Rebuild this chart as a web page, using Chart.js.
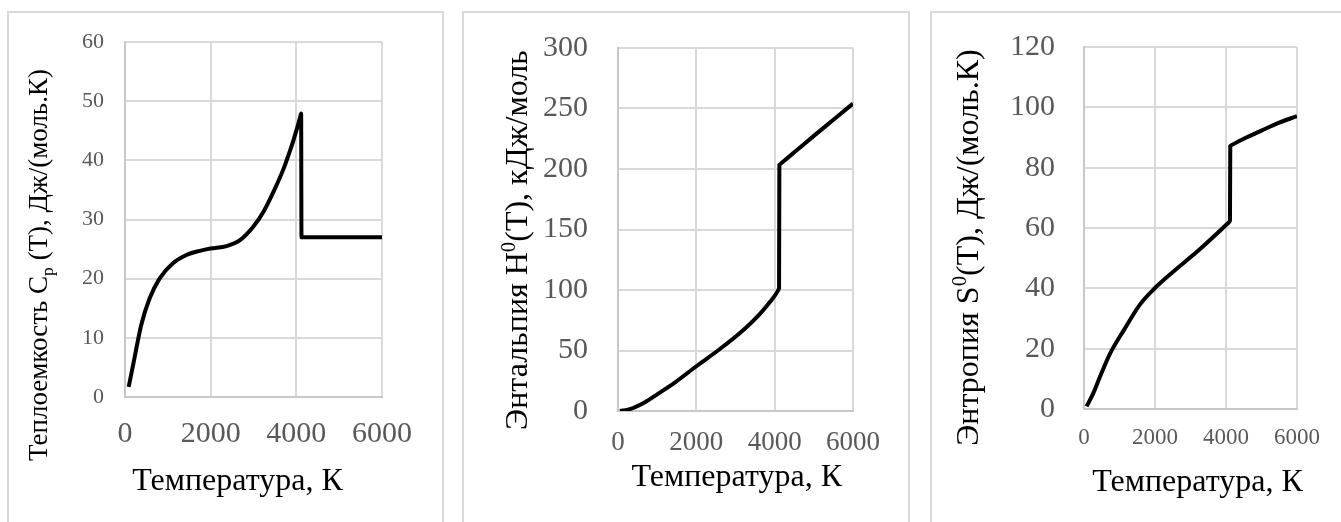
<!DOCTYPE html>
<html><head><meta charset="utf-8">
<script src="https://cdn.jsdelivr.net/npm/chart.js@4/dist/chart.umd.min.js"></script>
<style>
html,body{margin:0;padding:0;background:#fff;width:1341px;height:522px;overflow:hidden;}
.panel{position:absolute;top:11px;height:600px;border:2px solid #d9d9d9;box-sizing:border-box;}
canvas{position:absolute;top:0;}
</style></head><body>
<div class="panel" style="left:7px;width:437px"></div>
<div class="panel" style="left:462px;width:448px"></div>
<div class="panel" style="left:930px;width:500px"></div>
<canvas id="c1" width="447" height="522" style="left:0px"></canvas>
<canvas id="c2" width="465" height="522" style="left:447px"></canvas>
<canvas id="c3" width="429" height="522" style="left:912px"></canvas>
<script>
// ---- data ----
const xTickValues = [0, 2000, 4000, 6000];
const xTitle = 'Температура, К';

const cpT      = [86, 219, 376, 571, 806, 1119, 1432, 1746, 1996, 2372, 2685, 2998, 3233, 3468, 3703, 3898, 4016, 4090, 4112, 4120, 5000, 6000];
const cpValues = [1.7, 6.5, 12.1, 16.6, 20.0, 22.6, 24.0, 24.7, 25.1, 25.5, 26.5, 28.8, 31.3, 34.7, 38.6, 42.6, 45.4, 47.3, 47.9, 27.0, 27.0, 27.0];
const cpTicks  = [0, 10, 20, 30, 40, 50, 60];

const hT      = [50, 300, 700, 1000, 1450, 2000, 2550, 3060, 3570, 3900, 4050, 4095, 4106, 4112, 4120, 4130, 4145, 4500, 5000, 5500, 6000];
const hValues = [0, 1.5, 7.5, 13.8, 23.5, 37, 50, 63, 78.5, 91, 97.5, 100.2, 100.9, 101.5, 203.5, 203.8, 204.2, 213.8, 227.4, 240.7, 254];
const hTicks  = [0, 50, 100, 150, 200, 250, 300];

const sT      = [75, 260, 450, 730, 1110, 1580, 2000, 2520, 3180, 3740, 4000, 4095, 4106, 4112, 4120, 4130, 4145, 4500, 5000, 5500, 6000];
const sValues = [0.9, 5.2, 10.7, 18.3, 25.9, 34.7, 40.1, 45.6, 52.1, 58.1, 61, 62.1, 62.3, 62.5, 87.2, 87.3, 87.4, 89.6, 92.3, 94.9, 97.1];
const sTicks  = [0, 20, 40, 60, 80, 100, 120];

const cpTitle = [{t:'Теплоемкость C'}, {t:'p', s:'sub'}, {t:' (T), Дж/(моль.К)'}];
const hTitle  = [{t:'Энтальпия H'}, {t:'0', s:'sup'}, {t:'(T), кДж/моль'}];
const sTitle  = [{t:'Энтропия S'}, {t:'0', s:'sup'}, {t:'(T), Дж/(моль.К)'}];

// ---- rendering ----
const FAM = "'Liberation Serif', 'Times New Roman', serif";

function drawRich(ctx, parts, size, x, y, rotate) {
  ctx.save();
  ctx.translate(x, y);
  if (rotate) ctx.rotate(-Math.PI / 2);
  ctx.fillStyle = '#000';
  ctx.textBaseline = 'alphabetic';
  ctx.textAlign = 'left';
  let total = 0;
  const ws = parts.map(p => {
    ctx.font = (p.s ? size * 0.65 : size) + 'px ' + FAM;
    const w = ctx.measureText(p.t).width; total += w; return w;
  });
  let cx = -total / 2;
  parts.forEach((p, i) => {
    ctx.font = (p.s ? size * 0.65 : size) + 'px ' + FAM;
    const dy = p.s === 'sub' ? size * 0.22 : (p.s === 'sup' ? -size * 0.38 : 0);
    ctx.fillText(p.t, cx, dy);
    cx += ws[i];
  });
  ctx.restore();
}

function makeChart(id, T, V, yTicks, yTitleParts, st) {
  const pts = T.map((t, i) => ({x: t, y: V[i]}));
  const titlePlugin = {
    id: 'titles',
    afterDraw(chart) {
      const ctx = chart.ctx;
      drawRich(ctx, [{t: xTitle}], st.xtSize, st.xtX, st.xtY, false);
      drawRich(ctx, yTitleParts, st.ytSize, st.ytX, st.ytY, true);
    }
  };
  return new Chart(document.getElementById(id), {
    type: 'scatter',
    data: { datasets: [{
      data: pts, showLine: true, borderColor: '#000', borderWidth: 4,
      pointRadius: 0, cubicInterpolationMode: 'monotone', fill: false,
      borderCapStyle: 'butt', borderJoinStyle: 'miter'
    }]},
    options: {
      responsive: false, animation: false, devicePixelRatio: 1,
      layout: { padding: {left: 5, right: st.right, top: 42, bottom: st.bottom} },
      plugins: { legend: {display: false}, tooltip: {enabled: false}, title: {display: false} },
      scales: {
        x: {
          type: 'linear', min: 0, max: 6000,
          afterBuildTicks: s => { s.ticks = xTickValues.map(v => ({value: v})); },
          afterFit: s => { s.height = 60; },
          grid: { color: '#d9d9d9', lineWidth: 2, drawTicks: false },
          border: { color: '#c8c8c8', width: 2 },
          ticks: { color: '#595959', font: {family: FAM, size: st.xSize}, padding: st.xPad,
                   maxRotation: 0, autoSkip: false, callback: v => String(v) }
        },
        y: {
          type: 'linear', min: yTicks[0], max: yTicks[yTicks.length - 1],
          afterBuildTicks: s => { s.ticks = yTicks.map(v => ({value: v})); },
          afterFit: s => { s.width = st.left - 5; },
          grid: { color: '#d9d9d9', lineWidth: 2, drawTicks: false },
          border: { color: '#c8c8c8', width: 2 },
          ticks: { color: '#595959', font: {family: FAM, size: st.ySize}, padding: st.yPad,
                   autoSkip: false, callback: v => String(v) }
        }
      }
    },
    plugins: [titlePlugin]
  });
}

makeChart('c1', cpT, cpValues, cpTicks, cpTitle, {
  left: 125, right: 65, bottom: 65,
  xSize: 30, xPad: 19, ySize: 22, yPad: 21,
  xtSize: 32, xtX: 237.5, xtY: 490,
  ytSize: 27, ytX: 47, ytY: 265
});
makeChart('c2', hT, hValues, hTicks, hTitle, {
  left: 171, right: 59, bottom: 51,
  xSize: 27, xPad: 16, ySize: 30, yPad: 30,
  xtSize: 32, xtX: 289.7, xtY: 486,
  ytSize: 32, ytX: 80, ytY: 240
});
makeChart('c3', sT, sValues, sTicks, sTitle, {
  left: 172, right: 44, bottom: 53,
  xSize: 23, xPad: 15, ySize: 30, yPad: 29,
  xtSize: 32, xtX: 285.5, xtY: 491,
  ytSize: 32, ytX: 66, ytY: 247.5
});
</script>
</body></html>
